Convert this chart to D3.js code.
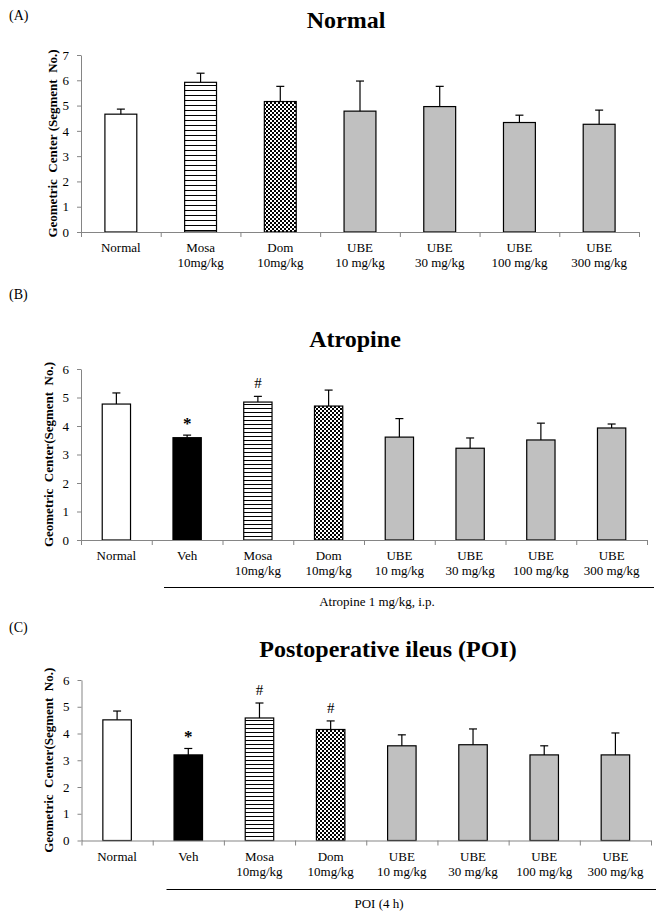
<!DOCTYPE html>
<html><head><meta charset="utf-8">
<script src="https://cdn.jsdelivr.net/npm/d3@7"></script>
<style>
body{margin:0;background:#fff}
svg{display:block}
text{font-family:"Liberation Serif","Times New Roman",serif;fill:#000}
</style>
</head><body><svg id="c" width="666" height="919"></svg>
<script>
// ---------- data ----------
const labelsA1 = ["Normal","Mosa","Dom","UBE","UBE","UBE","UBE"];
const labelsA2 = ["","10mg/kg","10mg/kg","10 mg/kg","30 mg/kg","100 mg/kg","300 mg/kg"];
const fillsA   = ["white","hline","check","gray","gray","gray","gray"];
const meansA   = [4.66, 5.92, 5.16, 4.78, 4.96, 4.33, 4.26];
const semA     = [0.20, 0.36, 0.60, 1.19, 0.80, 0.29, 0.56];
const yTicksA  = [0,1,2,3,4,5,6,7];

const labelsBC1 = ["Normal","Veh","Mosa","Dom","UBE","UBE","UBE","UBE"];
const labelsBC2 = ["","","10mg/kg","10mg/kg","10 mg/kg","30 mg/kg","100 mg/kg","300 mg/kg"];
const fillsBC   = ["white","black","hline","check","gray","gray","gray","gray"];
const meansB    = [4.77, 3.59, 4.84, 4.70, 3.61, 3.22, 3.51, 3.93];
const semB      = [0.39, 0.09, 0.20, 0.56, 0.65, 0.36, 0.59, 0.14];
const marksBIdx = [1, 2];
const marksBSym = ["*", "#"];
const meansC    = [4.51, 3.20, 4.58, 4.15, 3.54, 3.58, 3.20, 3.20];
const semC      = [0.33, 0.24, 0.56, 0.32, 0.41, 0.59, 0.34, 0.82];
const marksCIdx = [1, 2, 3];
const marksCSym = ["*", "#", "#"];
const yTicksBC  = [0,1,2,3,4,5,6];

const titles   = ["Normal", "Atropine", "Postoperative ileus (POI)"];
const tags     = ["(A)", "(B)", "(C)"];
const yLabels  = ["Geometric  Center (Segment  No.)", "Geometric  Center(Segment  No.)", "Geometric  Center(Segment  No.)"];
const groupNotes = ["", "Atropine 1 mg/kg, i.p.", "POI (4 h)"];

// ---------- drawing ----------
const svg = d3.select("#c");
const defs = svg.append("defs");
function hpat(id, h){
  const p = defs.append("pattern").attr("id",id).attr("patternUnits","userSpaceOnUse").attr("width",4).attr("height",h);
  p.append("rect").attr("width",4).attr("height",h).attr("fill","#fff");
  p.append("rect").attr("y",0).attr("width",4).attr("height",1).attr("fill","#000");
}
hpat("hlineA",5); hpat("hlineBC",4);
const cp = defs.append("pattern").attr("id","check").attr("patternUnits","userSpaceOnUse").attr("width",4).attr("height",4);
cp.append("rect").attr("width",4).attr("height",4).attr("fill","#fff");
cp.append("rect").attr("width",2).attr("height",2).attr("fill","#000");
cp.append("rect").attr("x",2).attr("y",2).attr("width",2).attr("height",2).attr("fill","#000");

const AX = "#858585";

function panel(cfg, l1, l2, fills, means, sem, ticks, mIdx, mSym, k){
  const n = means.length;
  const g = svg.append("g");
  const x = d3.scaleBand().domain(d3.range(n)).range([cfg.x0, cfg.x1]);
  const y = d3.scaleLinear().domain([0, d3.max(ticks)]).range([cfg.yBase, cfg.yTop]);
  const xi = d3.scaleLinear().domain([0, n]).range([cfg.x0, cfg.x1]);

  // tag and title
  g.append("text").attr("x",9).attr("y",cfg.tagY).attr("font-size",14).text(tags[k]);
  g.append("text").attr("x",cfg.titleX).attr("y",cfg.titleY).attr("text-anchor","middle")
    .attr("font-size",24).attr("font-weight","bold").text(titles[k]);

  // y axis
  const ya = g.append("g").attr("transform",`translate(${cfg.x0},0)`)
    .call(d3.axisLeft(y).tickValues(ticks).tickSize(4).tickPadding(8).tickSizeOuter(0).tickFormat(d3.format("d")));
  ya.select(".domain").attr("stroke",AX);
  ya.selectAll(".tick line").attr("stroke",AX);
  ya.selectAll(".tick text").attr("font-size",13).attr("font-family","Liberation Serif");

  // y label
  g.append("text").attr("transform",`translate(${cfg.ylabX},${(cfg.yBase+cfg.yTop)/2}) rotate(-90)`)
    .attr("text-anchor","middle").attr("font-size",13).attr("font-weight","bold")
    .style("white-space","pre").text(yLabels[k]);

  // bars
  const bw = x.bandwidth()*0.4;
  const fillOf = f => f==="white" ? "#fff" : f==="black" ? "#000" : f==="gray" ? "#c0c0c0" :
      f==="check" ? "url(#check)" : (k===0 ? "url(#hlineA)" : "url(#hlineBC)");
  g.selectAll("rect.bar").data(means).join("rect").attr("class","bar")
    .attr("x",(d,i)=>x(i)+(x.bandwidth()-bw)/2).attr("width",bw)
    .attr("y",d=>y(d)).attr("height",d=>y(0)-y(d))
    .attr("fill",(d,i)=>fillOf(fills[i])).attr("stroke","#000").attr("stroke-width",1.2);

  // error bars
  const cx = i => x(i)+x.bandwidth()/2;
  g.selectAll("line.ev").data(means).join("line").attr("class","ev")
    .attr("x1",(d,i)=>cx(i)).attr("x2",(d,i)=>cx(i))
    .attr("y1",d=>y(d)).attr("y2",(d,i)=>y(d+sem[i])).attr("stroke","#000").attr("stroke-width",1.2);
  g.selectAll("line.ec").data(means).join("line").attr("class","ec")
    .attr("x1",(d,i)=>cx(i)-4).attr("x2",(d,i)=>cx(i)+4)
    .attr("y1",(d,i)=>y(d+sem[i])).attr("y2",(d,i)=>y(d+sem[i])).attr("stroke","#000").attr("stroke-width",1.2);

  // x axis with boundary ticks
  const xa = g.append("g").attr("transform",`translate(0,${cfg.yBase})`)
    .call(d3.axisBottom(xi).tickValues(d3.range(n+1)).tickSize(5).tickSizeOuter(0).tickFormat(""));
  xa.select(".domain").attr("stroke",AX);
  xa.selectAll(".tick line").attr("stroke",AX);

  // category labels
  const lab = g.selectAll("text.cat").data(l1).join("text").attr("class","cat")
    .attr("text-anchor","middle").attr("font-size",13);
  lab.append("tspan").attr("x",(d,i)=>cx(i)).attr("y",cfg.yBase+20).text(d=>d);
  lab.append("tspan").attr("x",(d,i)=>cx(i)).attr("y",cfg.yBase+35).text((d,i)=>l2[i]);

  // significance marks
  g.selectAll("text.mk").data(mIdx).join("text").attr("class","mk")
    .attr("x",i=>cx(i)).attr("y",(i,j)=>y(means[i]+sem[i]) - (mSym[j]==="*" ? 6 : 8))
    .attr("text-anchor","middle")
    .attr("font-weight",(i,j)=>mSym[j]==="*" ? "bold" : "normal")
    .attr("font-size",(i,j)=>mSym[j]==="*" ? 17 : 15)
    .text((i,j)=>mSym[j]);

  // group bracket
  if (groupNotes[k]) {
    g.append("line").attr("x1",cfg.brX0).attr("x2",cfg.brX1).attr("y1",cfg.brY).attr("y2",cfg.brY)
      .attr("stroke","#000").attr("stroke-width",1.2);
    g.append("text").attr("x",cfg.noteX).attr("y",cfg.brY+18).attr("text-anchor","middle")
      .attr("font-size",13).text(groupNotes[k]);
  }
}

panel({x0:81,x1:639,yBase:232,yTop:55,tagY:20,titleX:346,titleY:28,ylabX:57},
  labelsA1,labelsA2,fillsA,meansA,semA,yTicksA,[],[],0);
panel({x0:81,x1:647,yBase:540,yTop:369,tagY:299,titleX:355,titleY:347,ylabX:52.5,
       brX0:164,brX1:654,brY:587.5,noteX:377},
  labelsBC1,labelsBC2,fillsBC,meansB,semB,yTicksBC,marksBIdx,marksBSym,1);
panel({x0:81.5,x1:651,yBase:840.5,yTop:680,tagY:632,titleX:388,titleY:657,ylabX:52.5,
       brX0:166.5,brX1:656,brY:889.5,noteX:379},
  labelsBC1,labelsBC2,fillsBC,meansC,semC,yTicksBC,marksCIdx,marksCSym,2);
</script>
</body></html>
